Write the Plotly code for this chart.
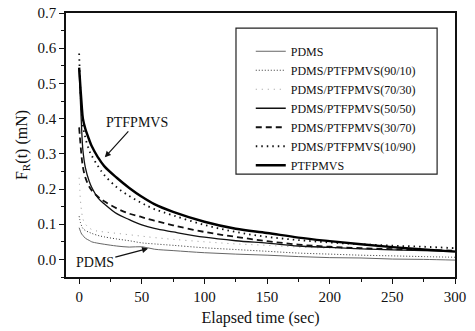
import plotly.graph_objects as go

# ---- data ----
t = [0, 1, 2, 3, 5, 8, 10, 15, 20, 30, 40, 50, 60, 75, 100, 125, 150, 175, 200, 225, 250, 275, 300]

pdms = [0.090, 0.080, 0.072, 0.068, 0.060, 0.054, 0.050, 0.046, 0.043, 0.038, 0.035, 0.036, 0.029, 0.025, 0.019,
        0.015, 0.012, 0.008, 0.005, 0.004, 0.001, 0.000, -0.002]
p90_10 = [0.123, 0.105, 0.095, 0.088, 0.082, 0.077, 0.074, 0.068, 0.064, 0.058, 0.053, 0.047, 0.044, 0.040, 0.033,
          0.028, 0.023, 0.018, 0.015, 0.012, 0.010, 0.008, 0.006]
p70_30 = [0.232, 0.170, 0.135, 0.115, 0.100, 0.090, 0.085, 0.080, 0.078, 0.074, 0.070, 0.066, 0.062, 0.057, 0.050,
          0.044, 0.040, 0.035, 0.032, 0.030, 0.028, 0.026, 0.025]
p50_50 = [0.540, 0.450, 0.370, 0.310, 0.260, 0.222, 0.205, 0.175, 0.158, 0.130, 0.113, 0.098, 0.088, 0.078, 0.063,
          0.053, 0.046, 0.038, 0.034, 0.030, 0.027, 0.025, 0.023]
p30_70 = [0.375, 0.330, 0.290, 0.262, 0.232, 0.207, 0.196, 0.178, 0.165, 0.145, 0.130, 0.120, 0.110, 0.097, 0.078,
          0.064, 0.052, 0.042, 0.036, 0.032, 0.029, 0.027, 0.025]
p10_90 = [0.585, 0.480, 0.420, 0.380, 0.345, 0.310, 0.295, 0.265, 0.240, 0.205, 0.180, 0.160, 0.143, 0.125, 0.098,
          0.078, 0.064, 0.055, 0.048, 0.043, 0.039, 0.036, 0.032]
ptfpmvs = [0.545, 0.490, 0.440, 0.400, 0.370, 0.340, 0.322, 0.290, 0.265, 0.232, 0.203, 0.178, 0.157, 0.135, 0.107,
           0.087, 0.075, 0.062, 0.052, 0.043, 0.035, 0.028, 0.022]

names = ["PDMS", "PDMS/PTFPMVS(90/10)", "PDMS/PTFPMVS(70/30)", "PDMS/PTFPMVS(50/50)",
         "PDMS/PTFPMVS(30/70)", "PDMS/PTFPMVS(10/90)", "PTFPMVS"]
series = [pdms, p90_10, p70_30, p50_50, p30_70, p10_90, ptfpmvs]

styles = [
    dict(color="#666666", width=1.0, dash="solid"),
    dict(color="#333333", width=1.0, dash="1px,2px"),
    dict(color="#9a9a9a", width=1.0, dash="1px,5px"),
    dict(color="#111111", width=1.3, dash="solid"),
    dict(color="#111111", width=1.8, dash="6px,4px"),
    dict(color="#111111", width=1.8, dash="1.5px,4px"),
    dict(color="#000000", width=2.4, dash="solid"),
]

FONT = "Liberation Serif"

fig = go.Figure()
for n, s, st in zip(names, series, styles):
    fig.add_trace(go.Scatter(x=t, y=s, mode="lines", name=n, line=st, line_shape="spline"))

# legend frame
fig.add_shape(type="rect", xref="paper", yref="paper", x0=0.437, x1=0.954, y0=0.390, y1=0.943,
              line=dict(color="#222222", width=1.2), fillcolor="rgba(0,0,0,0)", layer="below")

fig.add_annotation(x=20.5, y=0.290, ax=45.8, ay=0.389, axref="x", ayref="y", text="PTFPMVS",
                   showarrow=True, arrowhead=2, arrowsize=1, arrowwidth=1.2, arrowcolor="#111",
                   font=dict(family=FONT, size=14, color="#111"))
fig.add_annotation(x=55, y=0.031, ax=12.5, ay=-0.009, axref="x", ayref="y", text="PDMS",
                   showarrow=True, arrowhead=2, arrowsize=1, arrowwidth=1.2, arrowcolor="#111",
                   font=dict(family=FONT, size=14, color="#111"))

axis_common = dict(showline=True, linecolor="#111", linewidth=1.5, mirror=True, showgrid=False,
                   zeroline=False, ticks="outside", ticklen=5, tickwidth=1.2, tickcolor="#111",
                   tickfont=dict(family=FONT, size=15, color="#111"))

fig.update_xaxes(range=[-10.5, 300], tickvals=[0, 50, 100, 150, 200, 250, 300],
                 minor=dict(dtick=25, tick0=0, ticks="outside", ticklen=3, tickcolor="#111"),
                 title=dict(text="Elapsed time (sec)", font=dict(family=FONT, size=16, color="#111"), standoff=8),
                 **axis_common)
fig.update_yaxes(range=[-0.05, 0.7], tickvals=[0.0, 0.1, 0.2, 0.3, 0.4, 0.5, 0.6, 0.7], tickformat=".1f",
                 minor=dict(dtick=0.05, tick0=0, ticks="outside", ticklen=3, tickcolor="#111"),
                 title=dict(text="F<sub>R</sub>(t) (mN)", font=dict(family=FONT, size=16, color="#111"), standoff=6),
                 **axis_common)

fig.update_layout(
    width=475, height=331,
    font=dict(family=FONT),
    margin=dict(l=66, r=20, t=13, b=54, autoexpand=False),
    paper_bgcolor="white", plot_bgcolor="white",
    showlegend=True,
    legend=dict(x=0.475, y=0.91, xanchor="left", yanchor="top", bgcolor="rgba(0,0,0,0)", borderwidth=0,
                font=dict(family=FONT, size=12, color="#111"), itemwidth=30, tracegroupgap=0),
)

fig.write_html("out.html", config={"displayModeBar": False},
               post_script="document.body.style.margin='0';document.body.style.padding='0';")
